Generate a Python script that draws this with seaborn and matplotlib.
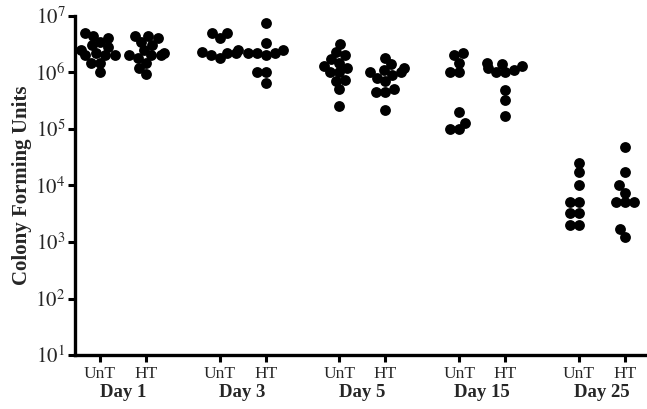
import numpy as np
import pandas as pd
import matplotlib
matplotlib.use("Agg")
import matplotlib.pyplot as plt
import seaborn as sns

days = ["Day 1", "Day 3", "Day 5", "Day 15", "Day 25"]
groups = ["UnT", "HT"]

unt_day1 = [5.0e6, 4.5e6, 4.0e6, 3.5e6, 3.0e6, 2.8e6, 2.5e6, 2.2e6, 2.0e6, 2.0e6, 2.0e6, 1.5e6, 1.5e6, 1.0e6]
ht_day1 = [4.5e6, 4.5e6, 4.0e6, 3.5e6, 3.0e6, 2.5e6, 2.2e6, 2.0e6, 2.0e6, 2.0e6, 1.8e6, 1.5e6, 1.2e6, 0.95e6]
unt_day3 = [5.0e6, 5.0e6, 4.0e6, 2.5e6, 2.3e6, 2.2e6, 2.2e6, 2.0e6, 1.8e6]
ht_day3 = [7.5e6, 3.3e6, 2.5e6, 2.2e6, 2.2e6, 2.2e6, 2.0e6, 1.0e6, 1.0e6, 6.5e5]
unt_day5 = [3.2e6, 2.3e6, 2.0e6, 1.7e6, 1.5e6, 1.3e6, 1.2e6, 1.0e6, 1.0e6, 7.5e5, 7.0e5, 5.0e5, 2.5e5]
ht_day5 = [1.8e6, 1.4e6, 1.2e6, 1.1e6, 1.0e6, 1.0e6, 9.0e5, 8.0e5, 7.0e5, 5.0e5, 4.5e5, 4.5e5, 2.2e5]
unt_day15 = [2.2e6, 2.0e6, 1.5e6, 1.0e6, 1.0e6, 2.0e5, 1.3e5, 1.0e5, 1.0e5]
ht_day15 = [1.5e6, 1.4e6, 1.3e6, 1.2e6, 1.1e6, 1.0e6, 1.0e6, 4.8e5, 3.2e5, 1.7e5]
unt_day25 = [2.5e4, 1.75e4, 1.0e4, 5.0e3, 5.0e3, 3.3e3, 3.3e3, 2.0e3, 2.0e3]
ht_day25 = [4.8e4, 1.75e4, 1.0e4, 7.5e3, 5.0e3, 5.0e3, 5.0e3, 1.7e3, 1.25e3]

unt_values = [unt_day1, unt_day3, unt_day5, unt_day15, unt_day25]
ht_values = [ht_day1, ht_day3, ht_day5, ht_day15, ht_day25]

y_ticks = [1e1, 1e2, 1e3, 1e4, 1e5, 1e6, 1e7]
y_ticklabels = [r"$10^{1}$", r"$10^{2}$", r"$10^{3}$", r"$10^{4}$", r"$10^{5}$", r"$10^{6}$", r"$10^{7}$"]

# build long table
rows = []
day_gap = 2.6
for d, day in enumerate(days):
    for g, (grp, vals) in enumerate(zip(groups, [unt_values[d], ht_values[d]])):
        for v in vals:
            rows.append({"pos": d * day_gap + g, "day": day, "group": grp, "cfu": v})
df = pd.DataFrame(rows)

sns.set_style("ticks")
plt.rcParams["font.family"] = ["Liberation Serif", "DejaVu Serif"]
plt.rcParams["mathtext.fontset"] = "stix"

fig = plt.figure(figsize=(6.47, 4.09), dpi=100)
ax = fig.add_axes([0.116, 0.132, 0.884, 0.829])

ax.set_yscale("log")
ax.set_ylim(10, 1e7)
ax.set_xlim(-0.54, (len(days) - 1) * day_gap + 1.48)

# lay out the swarm with a smaller marker so the dots overlap like the original
sns.swarmplot(data=df, x="pos", y="cfu", native_scale=True, orient="x",
              log_scale=(False, True), color="black", size=6.3, ax=ax,
              linewidth=0, warn_thresh=1.0)
ax.set_ylim(10, 1e7)
ax.set_xlim(-0.54, (len(days) - 1) * day_gap + 1.48)
fig.canvas.draw()
for coll in ax.collections:
    if "draw" in coll.__dict__:
        del coll.__dict__["draw"]
    coll.set_sizes([7.8 ** 2])

ax.set_yticks(y_ticks)
ax.set_yticklabels(y_ticklabels, fontsize=15)
ax.yaxis.set_minor_locator(matplotlib.ticker.NullLocator())

xt = []
xl = []
for d in range(len(days)):
    for g, grp in enumerate(groups):
        xt.append(d * day_gap + g)
        xl.append(grp)
ax.set_xticks(xt)
ax.set_xticklabels(xl, fontsize=12.5)
ax.set_xlabel("")
ax.set_ylabel("Colony Forming Units", fontsize=15, fontweight="bold", labelpad=2)

trans = matplotlib.transforms.blended_transform_factory(ax.transData, ax.transAxes)
for d, day in enumerate(days):
    ax.text(d * day_gap + 0.5, -0.11, day, transform=trans, ha="center", va="center",
            fontsize=13.5, fontweight="bold")

for s in ["top", "right"]:
    ax.spines[s].set_visible(False)
for s in ["left", "bottom"]:
    ax.spines[s].set_linewidth(2.4)
    ax.spines[s].set_color("black")
ax.tick_params(axis="both", which="major", width=2.2, length=5, color="black", pad=2)
ax.tick_params(axis="x", pad=3)

fig.savefig("out.png", dpi=100)
